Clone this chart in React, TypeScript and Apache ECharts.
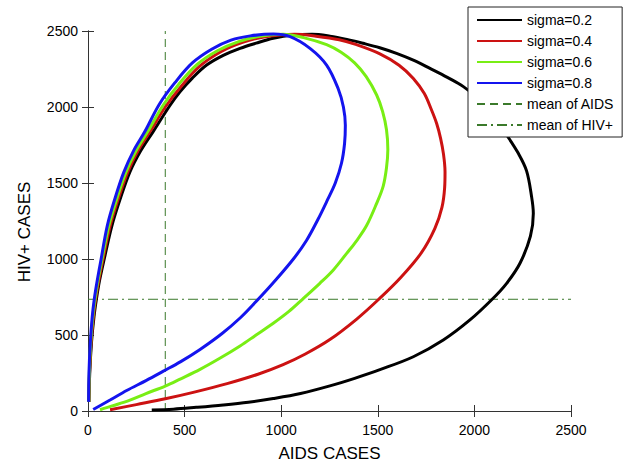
import React, { useEffect, useRef } from "react";
import * as echarts from "echarts";

const xTicks = [0, 500, 1000, 1500, 2000, 2500];
const yTicks = [0, 500, 1000, 1500, 2000, 2500];

const sigma02: number[][] = [
  [5,60],[9,250],[18,450],[31,620],[44,740],[60,860],[84,1000],[124,1220],[168,1400],[216,1570],[272,1710],[338,1840],[424,2010],[476,2100],[540,2190],[614,2276],[700,2340],[787,2386],[870,2420],[959,2452],[1063,2473],[1160,2478],[1252,2466],[1340,2445],[1425,2419],[1510,2390],[1597,2353],[1690,2305],[1770,2254],[1860,2195],[1943,2134],[2020,2055],[2090,1960],[2167,1816],[2225,1700],[2270,1580],[2296,1410],[2305,1300],[2290,1150],[2236,972],[2167,840],[2092,735],[1977,599],[1839,467],[1684,357],[1511,272],[1380,215],[1252,165],[1100,115],[959,82],[830,58],[700,40],[560,24],[442,12],[330,7]
];
const sigma04: number[][] = [
  [4,60],[8,250],[16,450],[28,620],[40,740],[56,860],[78,1000],[115,1220],[158,1400],[205,1570],[258,1710],[322,1840],[400,2000],[485,2140],[580,2270],[690,2365],[800,2425],[910,2460],[1070,2478],[1180,2466],[1300,2443],[1390,2410],[1511,2350],[1610,2275],[1684,2188],[1740,2090],[1775,1990],[1805,1890],[1825,1794],[1840,1690],[1848,1574],[1846,1470],[1832,1340],[1795,1200],[1725,1040],[1620,880],[1505,735],[1391,605],[1252,470],[1125,375],[1010,305],[880,242],[720,180],[550,124],[400,80],[250,42],[114,8]
];
const sigma06: number[][] = [
  [4,60],[7,250],[14,450],[25,620],[37,740],[52,860],[73,1000],[108,1220],[150,1400],[196,1570],[248,1710],[310,1840],[388,2010],[470,2150],[565,2280],[670,2370],[780,2430],[890,2465],[1010,2478],[1120,2455],[1235,2410],[1310,2360],[1380,2290],[1440,2200],[1494,2079],[1525,1970],[1545,1850],[1552,1720],[1545,1600],[1528,1480],[1494,1366],[1442,1220],[1390,1120],[1339,1037],[1270,928],[1200,840],[1110,735],[1040,655],[959,577],[870,500],[787,428],[680,345],[580,274],[480,212],[400,164],[300,115],[217,72],[130,35],[62,8]
];
const sigma08: number[][] = [
  [3,60],[5,250],[12,450],[22,620],[33,740],[48,860],[68,1000],[100,1220],[140,1400],[185,1570],[235,1710],[295,1840],[370,2020],[450,2160],[540,2290],[640,2380],[740,2440],[840,2468],[960,2480],[1046,2463],[1149,2386],[1235,2276],[1295,2120],[1322,2000],[1332,1880],[1328,1760],[1312,1630],[1280,1500],[1240,1390],[1190,1260],[1130,1120],[1063,1000],[960,845],[870,720],[790,615],[694,510],[580,405],[480,325],[390,262],[300,200],[200,135],[114,72],[27,10]
];
const meanAIDS = 400;
const meanHIV = 735;

const seriesNames = ["sigma=0.2", "sigma=0.4", "sigma=0.6", "sigma=0.8", "mean of AIDS", "mean of HIV+"];
const curveColors = ["#000000", "#cc1212", "#78ee14", "#1414ee"];
const meanColor = "#3b7a2b";
const FONT = "Arial, 'Liberation Sans', sans-serif";

export default function App() {
  const ref = useRef<HTMLDivElement>(null);
  useEffect(() => {
    if (!ref.current) return;
    const chart = echarts.init(ref.current, undefined, { renderer: "svg" });
    const curves = [sigma02, sigma04, sigma06, sigma08];
    const axisLine = { show: true, lineStyle: { color: "#333", width: 1 } };
    const tick = { show: true, inside: true, length: 6, lineStyle: { color: "#333" } };
    chart.setOption({
      animation: false,
      backgroundColor: "#fff",
      grid: { left: 88, right: 54, top: 31, bottom: 57 },
      xAxis: [
        {
          type: "value", min: 0, max: 2500, interval: 500, position: "bottom",
          axisLine, axisTick: tick, splitLine: { show: false },
          axisLabel: { fontFamily: FONT, fontSize: 14, color: "#000", margin: 12,
            formatter: (v: number) => (xTicks.includes(v) ? String(v) : "") },
          name: "AIDS CASES", nameLocation: "middle", nameGap: 34,
          nameTextStyle: { fontFamily: FONT, fontSize: 17, color: "#000" },
        },
        {
          type: "value", min: 0, max: 2500, interval: 500, position: "top",
          axisLine, axisTick: tick, splitLine: { show: false }, axisLabel: { show: false },
        },
      ],
      yAxis: [
        {
          type: "value", min: 0, max: 2500, interval: 500, position: "left",
          axisLine, axisTick: tick, splitLine: { show: false },
          axisLabel: { fontFamily: FONT, fontSize: 14, color: "#000", margin: 10,
            formatter: (v: number) => (yTicks.includes(v) ? String(v) : "") },
        },
        {
          type: "value", min: 0, max: 2500, interval: 500, position: "right",
          axisLine, axisTick: tick, splitLine: { show: false }, axisLabel: { show: false },
        },
      ],
      graphic: [
        {
          type: "text", x: 24, y: 232, rotation: Math.PI / 2,
          style: { text: "HIV+ CASES", fontFamily: FONT, fontSize: 17, fill: "#000", align: "center", verticalAlign: "middle" },
        },
      ],
      legend: {
        orient: "vertical", left: 468, top: 7,
        data: seriesNames,
        itemWidth: 45, itemHeight: 14, itemGap: 7,
        padding: [6, 8, 5, 8],
        backgroundColor: "#fff", borderColor: "#222", borderWidth: 1,
        itemStyle: { opacity: 0 },
        textStyle: { fontFamily: FONT, fontSize: 14, color: "#000", lineHeight: 14 },
        z: 10,
      },
      series: [
        ...curves.map((d, i) => ({
          name: seriesNames[i], type: "line", data: d, symbol: "none", smooth: 0.35,
          lineStyle: { color: curveColors[i], width: 3 }, itemStyle: { color: curveColors[i] },
          z: 2 + i,
        })),
        {
          name: seriesNames[4], type: "line", symbol: "none",
          data: [[meanAIDS, 0], [meanAIDS, 2500]],
          lineStyle: { color: meanColor, width: 1, type: [8, 5] }, itemStyle: { color: meanColor }, z: 1,
        },
        {
          name: seriesNames[5], type: "line", symbol: "none",
          data: [[0, meanHIV], [2500, meanHIV]],
          lineStyle: { color: meanColor, width: 1, type: [10, 4, 2, 4] }, itemStyle: { color: meanColor }, z: 1,
        },
      ],
    });
    return () => chart.dispose();
  }, []);
  return <div ref={ref} style={{ position: "absolute", left: 0, top: 0, width: 625, height: 468 }} />;
}
